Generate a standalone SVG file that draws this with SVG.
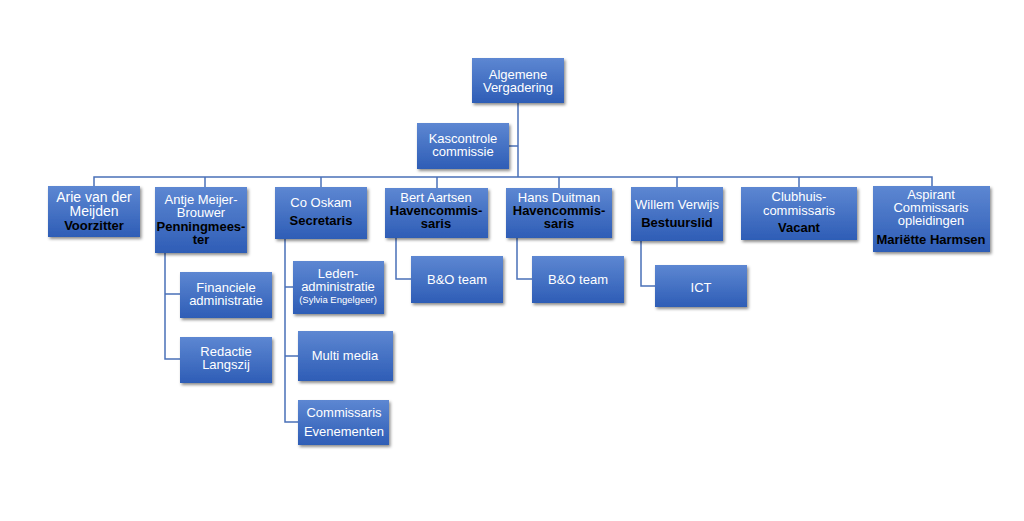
<svg xmlns="http://www.w3.org/2000/svg" width="1024" height="521" viewBox="0 0 1024 521">
<defs>
<linearGradient id="g" x1="0" y1="0" x2="0" y2="1">
<stop offset="0" stop-color="#5d87d2"/>
<stop offset="1" stop-color="#2e5db6"/>
</linearGradient>
<filter id="sh" x="-10%" y="-10%" width="130%" height="140%">
<feDropShadow dx="1.5" dy="2" stdDeviation="1.5" flood-color="#000" flood-opacity="0.45"/>
</filter>
</defs>
<style>
rect.n{fill:url(#g);filter:url(#sh)}
text{font-family:"Liberation Sans",Arial,sans-serif;font-size:13px;text-anchor:middle;fill:#fff}
text .b,text.b{font-weight:bold;fill:#000}
.s{font-size:9.5px}
#connectors path{fill:none;stroke:#4a70b8;stroke-width:1.5}
</style>
<rect width="1024" height="521" fill="#fff"/>
<g id="connectors">
<path d="M518 103V177"/>
<path d="M509 146H518"/>
<path d="M94 186V177H932V186"/>
<path d="M205 177V187"/>
<path d="M321 177V187"/>
<path d="M437 177V188"/>
<path d="M559 177V188"/>
<path d="M677 177V187"/>
<path d="M799 177V187"/>
<path d="M165 253V359H180M165 294H180"/>
<path d="M285 239V422H298M285 287H293M285 356H298"/>
<path d="M396 238V279H411"/>
<path d="M517 238V279H532"/>
<path d="M641 241V286H655"/>
</g>
<g id="algemene"><rect class="n" x="472" y="58" width="92" height="45"/><text x="518" y="79">Algemene</text><text x="518" y="92">Vergadering</text></g>
<g id="kascontrole"><rect class="n" x="417" y="123" width="92" height="46"/><text x="463" y="143">Kascontrole</text><text x="463" y="156">commissie</text></g>
<g id="arie"><rect class="n" x="48" y="186" width="92" height="51"/><text x="94" y="202" style="font-size:14px">Arie van der</text><text x="94" y="216" style="font-size:14px">Meijden</text><text class="b" x="94" y="230">Voorzitter</text></g>
<g id="antje"><rect class="n" x="155" y="187" width="92" height="66"/><text x="201" y="204">Antje Meijer-</text><text x="201" y="217">Brouwer</text><text class="b" x="201" y="231">Penningmees-</text><text class="b" x="201" y="244">ter</text></g>
<g id="co"><rect class="n" x="275" y="187" width="92" height="52"/><text x="321" y="207">Co Oskam</text><text class="b" x="321" y="225">Secretaris</text></g>
<g id="bert"><rect class="n" x="385" y="188" width="103" height="50"/><text x="436" y="202">Bert Aartsen</text><text class="b" x="436" y="215">Havencommis-</text><text class="b" x="436" y="228">saris</text></g>
<g id="hans"><rect class="n" x="506" y="188" width="106" height="50"/><text x="559" y="202">Hans Duitman</text><text class="b" x="559" y="215">Havencommis-</text><text class="b" x="559" y="228">saris</text></g>
<g id="willem"><rect class="n" x="631" y="187" width="92" height="54"/><text x="677" y="209">Willem Verwijs</text><text class="b" x="677" y="227">Bestuurslid</text></g>
<g id="clubhuis"><rect class="n" x="741" y="187" width="116" height="53"/><text x="799" y="201">Clubhuis-</text><text x="799" y="214.5">commissaris</text><text class="b" x="799" y="232">Vacant</text></g>
<g id="aspirant"><rect class="n" x="873" y="186" width="117" height="66"/><text x="931" y="199">Aspirant</text><text x="931" y="212">Commissaris</text><text x="931" y="225">opleidingen</text><text class="b" x="931" y="244">Mariëtte Harmsen</text></g>
<g id="financiele"><rect class="n" x="180" y="272" width="92" height="46"/><text x="226" y="292">Financiele</text><text x="226" y="305">administratie</text></g>
<g id="redactie"><rect class="n" x="180" y="337" width="92" height="46"/><text x="226" y="356">Redactie</text><text x="226" y="369">Langszij</text></g>
<g id="leden"><rect class="n" x="293" y="261" width="91" height="53"/><text x="338" y="278">Leden-</text><text x="338" y="291">administratie</text><text class="s" x="338" y="303">(Sylvia Engelgeer)</text></g>
<g id="multimedia"><rect class="n" x="298" y="331" width="95" height="50"/><text x="345" y="360">Multi media</text></g>
<g id="evenementen"><rect class="n" x="298" y="400" width="91" height="45"/><text x="344" y="417">Commissaris</text><text x="344" y="436">Evenementen</text></g>
<g id="bo1"><rect class="n" x="411" y="256" width="92" height="47"/><text x="457" y="284">B&amp;O team</text></g>
<g id="bo2"><rect class="n" x="532" y="256" width="92" height="47"/><text x="578" y="284">B&amp;O team</text></g>
<g id="ict"><rect class="n" x="655" y="265" width="92" height="42"/><text x="701" y="292">ICT</text></g>
</svg>
